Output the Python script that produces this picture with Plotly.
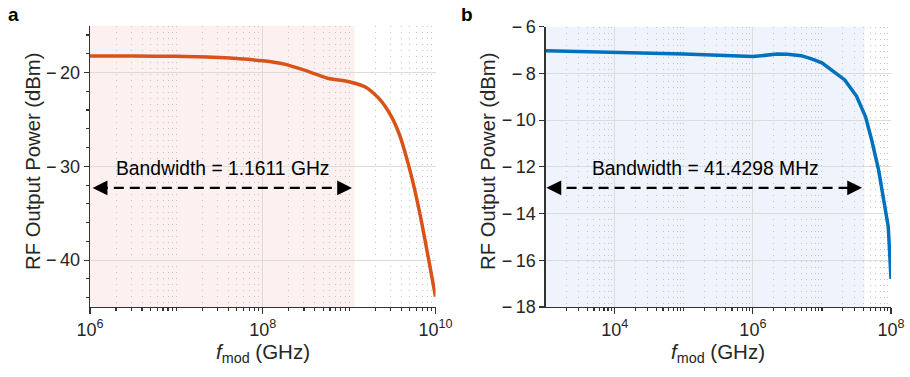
import numpy as np
import plotly.graph_objects as go

# ---------------- data ----------------
a_freq = [1e6, 3.16e6, 1e7, 3.16e7, 1e8, 1.78e8, 3.16e8, 5.62e8, 1e9, 1.58e9,
          2.29e9, 3.09e9, 3.89e9, 4.79e9, 5.75e9, 6.92e9, 8.32e9, 1e10]
a_power = [-18.22, -18.23, -18.27, -18.4, -18.75, -19.1, -19.8, -20.6, -20.98, -21.6,
           -22.9, -24.7, -26.8, -29.6, -32.5, -36.0, -39.9, -43.9]
a_bandwidth = 1.1611e9
a_label = "Bandwidth = 1.1611 GHz"

b_freq = [1e3, 1e4, 1e5, 1e6, 1.58e6, 2.24e6, 3.16e6, 5.01e6, 7.08e6, 1e7, 2.14e7,
          3.16e7, 4.27e7, 5.25e7, 6.61e7, 7.76e7, 9.12e7, 9.55e7, 1e8]
b_power = [-7.03, -7.10, -7.17, -7.28, -7.2, -7.17, -7.18, -7.24, -7.38, -7.55, -8.28,
           -8.97, -9.85, -10.85, -12.13, -13.28, -14.56, -15.65, -16.8]
b_bandwidth = 41.4298e6
b_label = "Bandwidth = 41.4298 MHz"

a_xticks = [1e6, 1e8, 1e10]
a_xticktext = ["10<sup>6</sup>", "10<sup>8</sup>", "10<sup>10</sup>"]
b_xticks = [1e4, 1e6, 1e8]
b_xticktext = ["10<sup>4</sup>", "10<sup>6</sup>", "10<sup>8</sup>"]
a_yticks = [-40, -30, -20]
b_yticks = [-18, -16, -14, -12, -10, -8, -6]

a_arrow_y = -32.3
b_arrow_y = -12.9

# ---------------- style ----------------
W, H = 910, 377
FONT = "Liberation Sans, Arial, Helvetica, sans-serif"
TXT = "#262626"
ORANGE = "#D95319"
BLUE = "#0072BD"
GRID = "#dcdcdc"
MINORGRID = "#c4c4c4"

def minor_vals(lo, hi, majors):
    vals = []
    for d in range(lo, hi):
        for m in range(1, 10):
            v = m * 10.0 ** d
            if m == 1 and any(abs(v - t) / t < 1e-9 for t in majors):
                continue
            if d == lo and m == 1:
                continue
            vals.append(v)
    return vals

def neg(v):
    return ("\u2212\u2009" + str(abs(v))) if v < 0 else str(v)

def px(xp):
    return xp / W

def py(yp):
    return 1 - yp / H

fig = go.Figure()

# curves
fig.add_trace(go.Scatter(x=a_freq, y=a_power, mode="lines", xaxis="x", yaxis="y",
                         line=dict(color=ORANGE, width=3.5, shape="spline", smoothing=0.6),
                         showlegend=False, hoverinfo="skip"))
fig.add_trace(go.Scatter(x=b_freq, y=b_power, mode="lines", xaxis="x2", yaxis="y2",
                         line=dict(color=BLUE, width=3.5), showlegend=False, hoverinfo="skip"))

# dashed arrow bodies
a_left = 10 ** 6.03
b_left = 10 ** 3.01
a_right = a_bandwidth * 0.93
b_right = b_bandwidth * 0.92
fig.add_trace(go.Scatter(x=[a_left * 1.15, a_right / 1.15], y=[a_arrow_y, a_arrow_y], mode="lines",
                         xaxis="x", yaxis="y", line=dict(color="black", width=2.2, dash="10px,6px"),
                         showlegend=False, hoverinfo="skip"))
fig.add_trace(go.Scatter(x=[b_left * 1.15, b_right / 1.15], y=[b_arrow_y, b_arrow_y], mode="lines",
                         xaxis="x2", yaxis="y2", line=dict(color="black", width=2.2, dash="10px,6px"),
                         showlegend=False, hoverinfo="skip"))

shapes = [
    dict(type="rect", xref="x", yref="y domain", x0=1e6, x1=a_bandwidth, y0=0, y1=1,
         fillcolor="#fcf1f0", line=dict(width=0), layer="below"),
    dict(type="rect", xref="x2", yref="y2 domain", x0=1e3, x1=b_bandwidth, y0=0, y1=1,
         fillcolor="#eff3fb", line=dict(width=0), layer="below"),
]

annotations = []
# arrow heads
for (xr, yr, xv, yv, dx) in [("x", "y", a_left, a_arrow_y, 0.12), ("x", "y", a_right, a_arrow_y, -0.12),
                             ("x2", "y2", b_left, b_arrow_y, 0.12), ("x2", "y2", b_right, b_arrow_y, -0.12)]:
    lx = np.log10(xv)
    annotations.append(dict(x=lx, y=yv, ax=lx + dx, ay=yv, xref=xr, yref=yr, axref=xr, ayref=yr,
                            text="", showarrow=True, arrowhead=2, arrowsize=1.35, arrowwidth=2.2,
                            arrowcolor="black"))

def label(xp, yp, text, size, color=TXT, angle=0):
    return dict(x=px(xp), y=py(yp), xref="paper", yref="paper", text=text, showarrow=False,
                xanchor="center", yanchor="middle", textangle=angle,
                font=dict(size=size, color=color))

annotations += [
    label(222.5, 168, a_label, 19.3, "black"),
    label(705, 168, b_label, 19.3, "black"),
    label(33, 161, "RF Output Power (dBm)", 20.3, TXT, -90),
    label(488, 161, "RF Output Power (dBm)", 20.3, TXT, -90),
    label(262.5, 353, "<i>f</i><sub>mod</sub> (GHz)", 20.5),
    label(718, 353, "<i>f</i><sub>mod</sub> (GHz)", 20.5),
    label(13, 15, "<b>a</b>", 19, "black"),
    label(467, 15, "<b>b</b>", 19, "black"),
]

common_x = dict(type="log", showline=True, linecolor="#333333", linewidth=1.3, ticks="outside",
                ticklen=6, tickwidth=1.2, tickcolor="#333333", showgrid=True, gridcolor=GRID,
                gridwidth=1, zeroline=False, tickfont=dict(size=18, color=TXT), tickmode="array",
                automargin=False)
common_y = dict(showline=True, linecolor="#333333", linewidth=1.3, ticks="outside", ticklen=5,
                tickwidth=1.2, tickcolor="#333333", showgrid=True, gridcolor=GRID, gridwidth=1,
                zeroline=False, tickfont=dict(size=18, color=TXT), tickmode="array",
                automargin=False)

fig.update_layout(
    width=W, height=H, margin=dict(l=0, r=0, t=0, b=0, pad=0, autoexpand=False),
    paper_bgcolor="white", plot_bgcolor="white",
    font=dict(family=FONT, color=TXT),
    shapes=shapes, annotations=annotations, hovermode=False,
    xaxis=dict(common_x, domain=[px(90), px(435.5)], range=[6, 10], anchor="y",
               tickvals=a_xticks, ticktext=a_xticktext,
               minor=dict(tickvals=minor_vals(6, 10, a_xticks), ticks="outside", ticklen=3,
                          tickcolor="#333333", showgrid=True, gridcolor=MINORGRID,
                          griddash="1.5px,4.5px", gridwidth=1)),
    yaxis=dict(common_y, domain=[py(307), py(25.7)], range=[-45, -15], anchor="x",
               tickvals=a_yticks, ticktext=[neg(v) for v in a_yticks],
               minor=dict(dtick=2, tick0=0, ticks="outside", ticklen=3, tickcolor="#333333",
                          showgrid=False)),
    xaxis2=dict(common_x, domain=[px(545.7), px(891)], range=[3, 8], anchor="y2",
                tickvals=b_xticks, ticktext=b_xticktext,
                minor=dict(tickvals=minor_vals(3, 8, b_xticks), ticks="outside", ticklen=3,
                           tickcolor="#333333", showgrid=True, gridcolor=MINORGRID,
                           griddash="1.5px,4.5px", gridwidth=1)),
    yaxis2=dict(common_y, domain=[py(307), py(26.7)], range=[-18, -6], anchor="x2",
                tickvals=b_yticks, ticktext=[neg(v) for v in b_yticks]),
)

fig.write_html("out.html", config={"displayModeBar": False, "staticPlot": True},
               post_script="document.body.style.margin='0';document.body.style.padding='0';"
                           "document.documentElement.style.overflow='hidden';")
